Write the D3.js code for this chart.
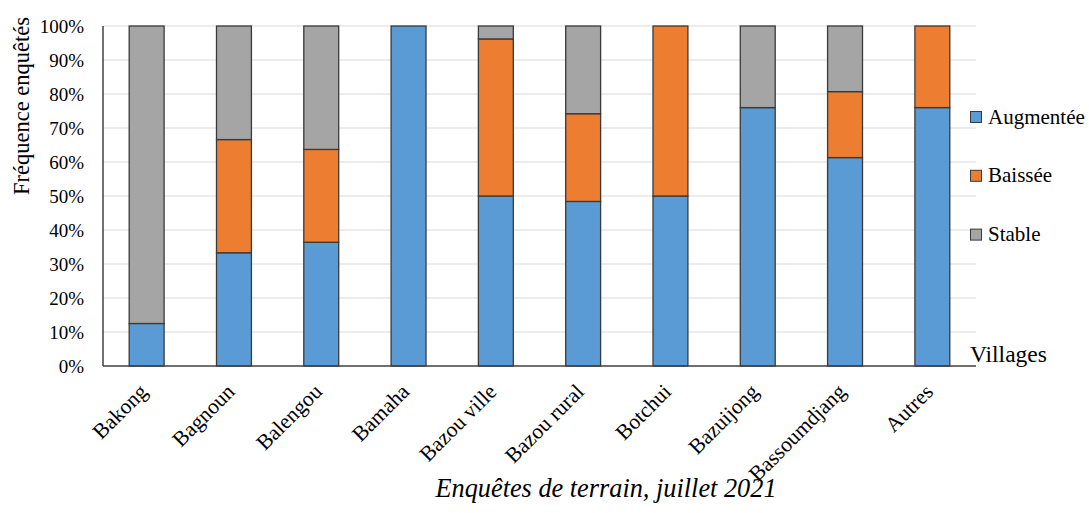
<!DOCTYPE html>
<html>
<head>
<meta charset="utf-8">
<script src="https://cdn.jsdelivr.net/npm/d3@7"></script>
<style>
  html, body { margin: 0; padding: 0; background: #fff; }
  svg { display: block; }
  text { font-family: "Liberation Serif", "Times New Roman", serif; fill: #000; }
</style>
</head>
<body>
<svg id="chart" width="1089" height="513"></svg>
<script>
// Villages surveyed
const villages = ["Bakong", "Bagnoun", "Balengou", "Bamaha", "Bazou ville", "Bazou rural", "Botchui", "Bazuijong", "Bassoumdjang", "Autres"];
// Share of respondents per answer (%)
const augmentee = [12.5, 33.3, 36.4, 100, 50, 48.4, 50, 76, 61.3, 76];
const baissee   = [0, 33.3, 27.3, 0, 46.2, 25.8, 50, 0, 19.4, 24];
const stable    = [87.5, 33.4, 36.3, 0, 3.8, 25.8, 0, 24, 19.3, 0];
const seriesNames = ["Augmentée", "Baissée", "Stable"];
const seriesColors = ["#5B9BD5", "#ED7D31", "#A5A5A5"];
const yTicks = [0, 10, 20, 30, 40, 50, 60, 70, 80, 90, 100];

const FONT = "'Liberation Serif', 'Times New Roman', serif";
const svg = d3.select("#chart");
const plotLeft = 103, plotRight = 976, plotTop = 26, plotBottom = 366;

const x = d3.scaleBand().domain(villages).range([plotLeft, plotRight]).paddingInner(0.6).paddingOuter(0.3);
const y = d3.scaleLinear().domain([0, 100]).range([plotBottom, plotTop]);

// Gridlines
svg.append("g").selectAll("line").data(yTicks.filter(d => d > 0)).join("line")
  .attr("x1", plotLeft).attr("x2", plotRight)
  .attr("y1", d => y(d)).attr("y2", d => y(d))
  .attr("stroke", "#d9d9d9").attr("stroke-width", 1);

// Stacked bars
const rows = villages.map((v, i) => ({ village: v, "Augmentée": augmentee[i], "Baissée": baissee[i], "Stable": stable[i] }));
const stack = d3.stack().keys(seriesNames)(rows);

svg.append("g").selectAll("g").data(stack).join("g")
  .attr("fill", (d, i) => seriesColors[i])
  .selectAll("rect").data(d => d.filter(s => s[1] - s[0] > 0)).join("rect")
  .attr("x", d => x(d.data.village))
  .attr("width", x.bandwidth())
  .attr("y", d => y(d[1]))
  .attr("height", d => y(d[0]) - y(d[1]))
  .attr("stroke", "#3a3a3a").attr("stroke-width", 1.3);

// Axis lines
svg.append("line").attr("x1", plotLeft).attr("x2", plotLeft).attr("y1", plotTop).attr("y2", plotBottom)
  .attr("stroke", "#262626").attr("stroke-width", 1.3);
svg.append("line").attr("x1", plotLeft).attr("x2", plotRight).attr("y1", plotBottom).attr("y2", plotBottom)
  .attr("stroke", "#404040").attr("stroke-width", 1.3);

// Y tick labels
const yAxis = d3.axisLeft(y).tickValues(yTicks).tickFormat(d => d + "%").tickSize(0).tickPadding(19);
const ya = svg.append("g").attr("transform", `translate(${plotLeft},0)`).call(yAxis);
ya.select(".domain").remove();
ya.selectAll("text").style("font-family", FONT).style("font-size", "19px").attr("fill", "#000");

// X tick labels (rotated)
const xAxis = d3.axisBottom(x).tickSize(0).tickPadding(0);
const xa = svg.append("g").attr("transform", `translate(0,${plotBottom})`).call(xAxis);
xa.select(".domain").remove();
xa.selectAll("text")
  .style("font-family", FONT).style("font-size", "21.5px").attr("fill", "#000")
  .attr("text-anchor", "end")
  .attr("dy", null).attr("y", 0)
  .attr("transform", "translate(2,27) rotate(-45)");

// Y axis title
svg.append("text")
  .attr("transform", "translate(29,106) rotate(-90)")
  .attr("text-anchor", "middle")
  .style("font-family", FONT).style("font-size", "22.5px")
  .text("Fréquence enquêtés");

// X axis title
svg.append("text").attr("x", 970).attr("y", 361.5)
  .style("font-family", FONT).style("font-size", "23.5px").text("Villages");

// Legend
const legend = svg.append("g").selectAll("g").data(seriesNames).join("g")
  .attr("transform", (d, i) => `translate(970,${117 + i * 58.8})`);
legend.append("rect").attr("x", 0.5).attr("y", -5.5).attr("width", 11).attr("height", 11)
  .attr("fill", (d, i) => seriesColors[i]).attr("stroke", "#3a3a3a").attr("stroke-width", 1);
legend.append("text").attr("x", 18).attr("y", 6.5)
  .style("font-family", FONT).style("font-size", "21px").text(d => d);

// Source line
svg.append("text").attr("x", 606).attr("y", 497).attr("text-anchor", "middle")
  .style("font-family", FONT).style("font-size", "26.3px").style("font-style", "italic")
  .text("Enquêtes de terrain, juillet 2021");
</script>
</body>
</html>
